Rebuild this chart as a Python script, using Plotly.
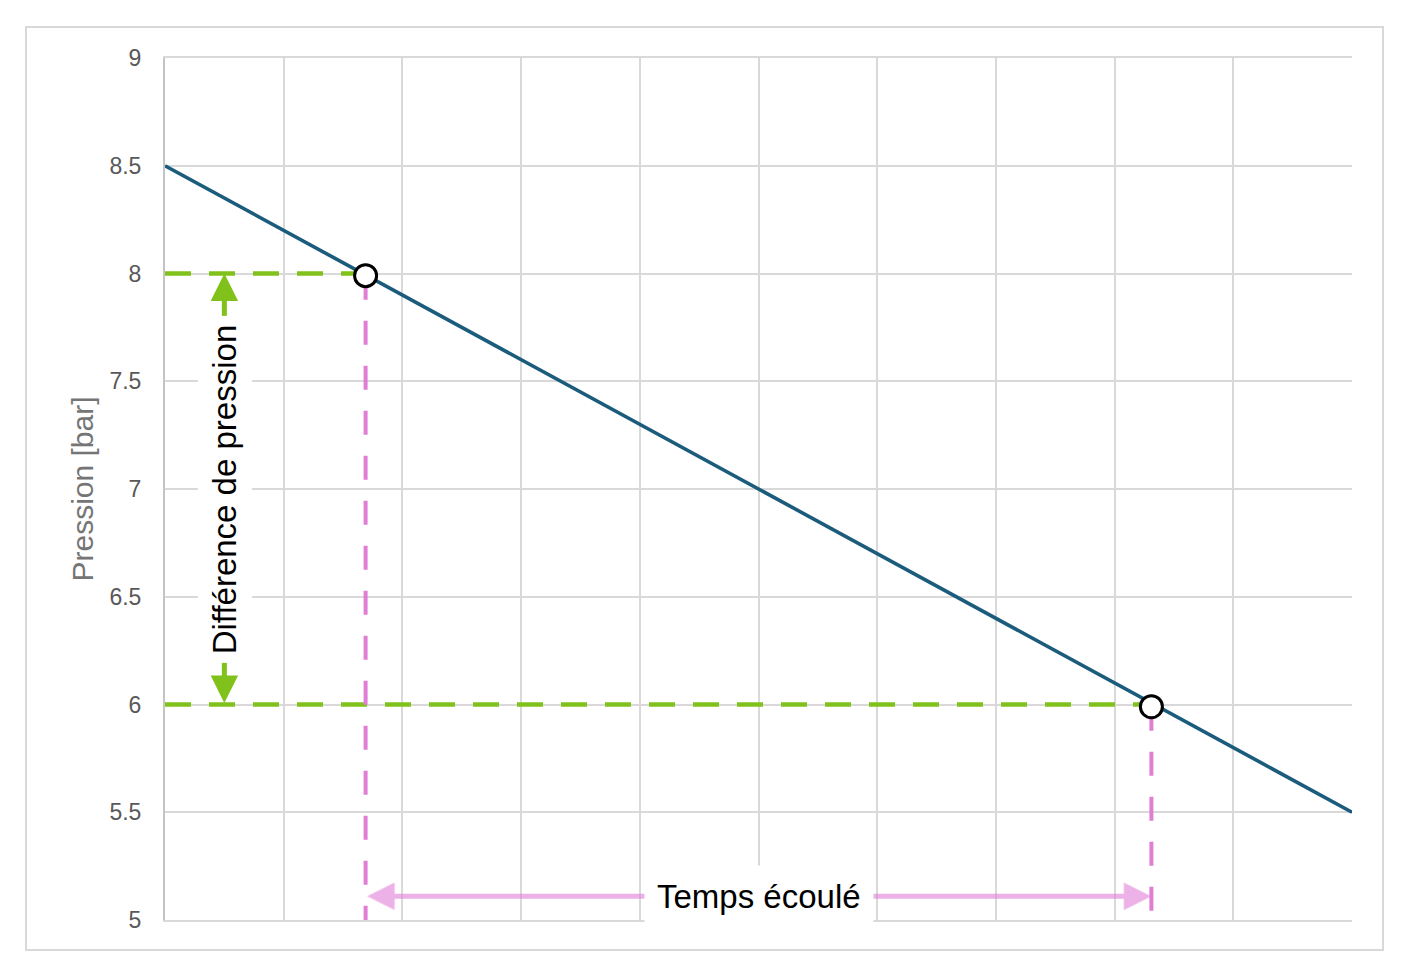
import plotly.graph_objects as go

# Data
line_time = [0, 10]
line_pressure = [8.5, 5.5]
point_time = [1.69, 8.31]
point_pressure = [7.99, 5.99]
level_pressure = [8.0, 6.0]   # green reference levels
y_ticks = [5, 5.5, 6, 6.5, 7, 7.5, 8, 8.5, 9]
y_tick_labels = ["5", "5.5", "6", "6.5", "7", "7.5", "8", "8.5", "9"]
x_grid = [0, 1, 2, 3, 4, 5, 6, 7, 8, 9, 10]
arrow_time_x = 0.5            # position of pressure-difference arrow
arrow_pressure_y = 5.11       # position of elapsed-time arrow
label_time_x = 5.0
label_pressure_y = 7.0
y_min, y_max = 5, 9
x_min, x_max = 0, 10

BLUE = "#1b5c7c"
GREEN = "#80c21b"
PINK = "#e07ed6"
PINK_LIGHT = "rgba(224,126,214,0.6)"
GRID = "#d9d9d9"
FONT = "Liberation Sans, Arial, sans-serif"

fig = go.Figure()

fig.add_trace(go.Scatter(x=line_time, y=line_pressure, mode="lines",
                         line=dict(color=BLUE, width=3.6), hoverinfo="skip"))

# green horizontal dashed lines
for t, p in zip(point_time, level_pressure):
    fig.add_trace(go.Scatter(x=[x_min, t], y=[p, p], mode="lines",
                             line=dict(color=GREEN, width=4.5, dash="26px,18px"),
                             hoverinfo="skip"))
# pink vertical dashed lines
for t, p in zip(point_time, point_pressure):
    fig.add_trace(go.Scatter(x=[t, t], y=[p, y_min], mode="lines",
                             line=dict(color=PINK, width=4, dash="24px,21px"),
                             hoverinfo="skip"))

fig.add_trace(go.Scatter(x=point_time, y=point_pressure, mode="markers",
                         marker=dict(size=22, color="white",
                                     line=dict(color="black", width=3)),
                         hoverinfo="skip"))

# double arrows
fig.add_annotation(x=arrow_time_x, y=level_pressure[0], ax=arrow_time_x, ay=level_pressure[1],
                   xref="x", yref="y", axref="x", ayref="y", text="",
                   showarrow=True, arrowside="end+start", arrowhead=2,
                   arrowsize=1.1, arrowwidth=5, arrowcolor=GREEN)
fig.add_annotation(x=point_time[1], y=arrow_pressure_y, ax=point_time[0], ay=arrow_pressure_y,
                   xref="x", yref="y", axref="x", ayref="y", text="",
                   showarrow=True, arrowside="end+start", arrowhead=2,
                   arrowsize=1.1, arrowwidth=5, arrowcolor=PINK_LIGHT)

fig.add_annotation(x=arrow_time_x, y=label_pressure_y, xref="x", yref="y",
                   text="Différence de pression", textangle=-90, showarrow=False,
                   font=dict(family=FONT, size=33, color="black"),
                   bgcolor="white", borderpad=8)
fig.add_annotation(x=label_time_x, y=arrow_pressure_y, xref="x", yref="y",
                   text="Temps écoulé", showarrow=False,
                   font=dict(family=FONT, size=33, color="black"),
                   bgcolor="white", borderpad=12)

# outer frame
fig.add_shape(type="rect", xref="paper", yref="paper",
              x0=-0.1171, x1=1.0261, y0=-0.0348, y1=1.036,
              line=dict(color=GRID, width=2), fillcolor="rgba(0,0,0,0)", layer="below")

fig.update_layout(
    width=1411, height=977,
    margin=dict(l=165, r=59, t=58, b=57),
    paper_bgcolor="white", plot_bgcolor="white",
    showlegend=False, hovermode=False,
    font=dict(family=FONT),
    xaxis=dict(range=[x_min, x_max], tickvals=x_grid, showticklabels=False,
               showgrid=True, gridcolor=GRID, gridwidth=2, zeroline=False,
               showline=True, linecolor=GRID, linewidth=2, mirror=True, ticks=""),
    yaxis=dict(range=[y_min, y_max], tickvals=y_ticks, ticktext=y_tick_labels,
               showgrid=True, gridcolor=GRID, gridwidth=2, zeroline=False,
               showline=True, linecolor="#c4c4c4", linewidth=2, ticks="",
               ticklabelstandoff=17,
               tickfont=dict(family=FONT, size=23, color="#595959"),
               title=dict(text="Pression [bar]", standoff=7,
                          font=dict(family=FONT, size=30, color="#757575"))),
)

fig.write_html("out.html")
